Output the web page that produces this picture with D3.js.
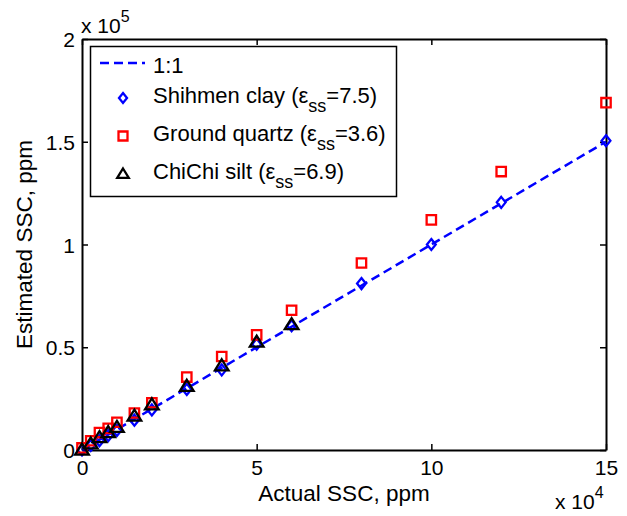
<!DOCTYPE html>
<html>
<head>
<meta charset="utf-8">
<script src="https://cdn.jsdelivr.net/npm/d3@7"></script>
<style>
  html, body { margin: 0; padding: 0; background: #fff; overflow: hidden; }
  svg { display: block; }
  svg text { font-family: "Liberation Sans", Arial, sans-serif; fill: #000; }
</style>
</head>
<body>
<div id="chart"></div>
<script>
// actual SSC (ppm) at which each sample was measured
const actualSSC = [0, 2500, 5000, 7500, 10000, 15000, 20000, 30000, 40000, 50000, 60000, 80000, 100000, 120000, 150000];
const actualChiChi = [0, 2500, 5000, 7500, 10000, 15000, 20000, 30000, 40000, 50000, 60000];

// estimated SSC (ppm)
const shihmenClay = [0, 2200, 4500, 7000, 9500, 14500, 19500, 29500, 39000, 51500, 60500, 81000, 100000, 120500, 150500];
const groundQuartz = [1000, 4500, 8500, 10500, 13500, 18000, 23000, 35500, 45500, 56000, 68000, 91000, 112000, 135500, 169000];
const chichiSilt = [0, 3000, 6000, 8500, 11000, 16500, 22000, 31000, 41000, 52500, 61000];

const oneToOne = [0, 150000];

const xTicks = [0, 50000, 100000, 150000];
const yTicks = [0, 50000, 100000, 150000, 200000];

const width = 627;
const height = 516;
const margin = { top: 39, right: 21, bottom: 66, left: 82 };
const innerWidth = width - margin.left - margin.right;
const innerHeight = height - margin.top - margin.bottom;

const svg = d3.select('#chart')
  .append('svg')
  .attr('width', width)
  .attr('height', height);

const g = svg.append('g')
  .attr('transform', `translate(${margin.left}, ${margin.top})`);

const x = d3.scaleLinear().domain([0, 150000]).range([0, innerWidth]);
const y = d3.scaleLinear().domain([0, 200000]).range([innerHeight, 0]);

// axes, MATLAB style: box on, ticks pointing in
const styleAxis = sel => {
  sel.attr('font-family', null).attr('font-size', null);
  sel.select('.domain').attr('stroke', '#000').attr('stroke-width', 2);
  sel.selectAll('.tick line').attr('stroke', '#000').attr('stroke-width', 1.5);
  sel.selectAll('.tick text').attr('font-size', 21);
};
const noLabels = sel => sel.selectAll('.tick text').remove();

g.append('g')
  .attr('transform', `translate(0, ${innerHeight})`)
  .call(d3.axisBottom(x).tickValues(xTicks).tickSize(-6).tickSizeOuter(0)
    .tickFormat(d => d / 1e4))
  .call(styleAxis)
  .call(sel => sel.selectAll('.tick text').attr('dy', null).attr('y', 25));

g.append('g')
  .call(d3.axisTop(x).tickValues(xTicks).tickSize(-6).tickSizeOuter(0))
  .call(styleAxis)
  .call(noLabels);

g.append('g')
  .call(d3.axisLeft(y).tickValues(yTicks).tickSize(-6).tickSizeOuter(0).tickPadding(7)
    .tickFormat(d => d / 1e5))
  .call(styleAxis)
  .call(sel => sel.selectAll('.tick text').attr('dy', null).attr('y', 7.5));

g.append('g')
  .attr('transform', `translate(${innerWidth}, 0)`)
  .call(d3.axisRight(y).tickValues(yTicks).tickSize(-6).tickSizeOuter(0))
  .call(styleAxis)
  .call(noLabels);

// text followed by a raised or lowered smaller piece, as separate text nodes
const richText = (parent, px, py, parts) => {
  let cx = px;
  parts.forEach(p => {
    const t = parent.append('text')
      .attr('x', cx)
      .attr('y', py + (p.dy || 0))
      .attr('font-size', p.size)
      .text(p.text);
    cx += t.node().getComputedTextLength();
  });
};

// exponent labels
richText(svg, 81, 33, [{ text: 'x 10', size: 21 }, { text: '5', size: 16, dy: -11 }]);
richText(svg, 555, 509, [{ text: 'x 10', size: 21 }, { text: '4', size: 16, dy: -11 }]);

// axis titles
svg.append('text')
  .attr('x', margin.left + innerWidth / 2)
  .attr('y', 501)
  .attr('text-anchor', 'middle')
  .attr('font-size', 22.5)
  .text('Actual SSC, ppm');

svg.append('text')
  .attr('transform', `translate(32, ${margin.top + innerHeight / 2}) rotate(-90)`)
  .attr('text-anchor', 'middle')
  .attr('font-size', 22.5)
  .text('Estimated SSC, ppm');

// 1:1 line
const line = d3.line().x(d => x(d)).y(d => y(d));
g.append('path')
  .datum(oneToOne)
  .attr('d', line)
  .attr('fill', 'none')
  .attr('stroke', '#0000ff')
  .attr('stroke-width', 2.5)
  .attr('stroke-dasharray', '9,5');

const diamond = s => `M0,${-s}L${s * 0.8},0L0,${s}L${-s * 0.8},0Z`;
const square = s => `M${-s},${-s}H${s}V${s}H${-s}Z`;
const triangle = s => `M0,${-s}L${s * 1.05},${s * 0.7}H${-s * 1.05}Z`;

const markers = [
  { xs: actualSSC, ys: shihmenClay, path: diamond(5.5), color: '#0000ff' },
  { xs: actualSSC, ys: groundQuartz, path: square(4.7), color: '#ff0000' },
  { xs: actualChiChi, ys: chichiSilt, path: triangle(6.5), color: '#000000' }
];

markers.forEach(m => {
  g.append('g')
    .selectAll('path')
    .data(m.ys)
    .enter()
    .append('path')
    .attr('transform', (d, i) => `translate(${x(m.xs[i])}, ${y(d)})`)
    .attr('d', m.path)
    .attr('fill', 'none')
    .attr('stroke', m.color)
    .attr('stroke-width', 2.3);
});

// legend
const legend = svg.append('g');
legend.append('rect')
  .attr('x', 90.5).attr('y', 46.5)
  .attr('width', 306).attr('height', 150)
  .attr('fill', '#fff')
  .attr('stroke', '#000')
  .attr('stroke-width', 1.5);

legend.append('line')
  .attr('x1', 100).attr('x2', 145)
  .attr('y1', 63).attr('y2', 63)
  .attr('stroke', '#0000ff')
  .attr('stroke-width', 2.5)
  .attr('stroke-dasharray', '9,5');

legend.append('text').attr('x', 153).attr('y', 73).attr('font-size', 22).text('1:1');

const legendRows = [
  { name: 'Shihmen clay (ε', value: '=7.5)', path: diamond(5), color: '#0000ff', cy: 98, base: 103 },
  { name: 'Ground quartz (ε', value: '=3.6)', path: square(4.5), color: '#ff0000', cy: 136, base: 141 },
  { name: 'ChiChi silt (ε', value: '=6.9)', path: triangle(5.5), color: '#000000', cy: 174, base: 179 }
];

legendRows.forEach(r => {
  legend.append('path')
    .attr('transform', `translate(123, ${r.cy})`)
    .attr('d', r.path)
    .attr('fill', 'none')
    .attr('stroke', r.color)
    .attr('stroke-width', 2.3);
  richText(legend, 153, r.base, [
    { text: r.name, size: 22 },
    { text: 'ss', size: 18, dy: 9 },
    { text: r.value, size: 22 }
  ]);
});
</script>
</body>
</html>
